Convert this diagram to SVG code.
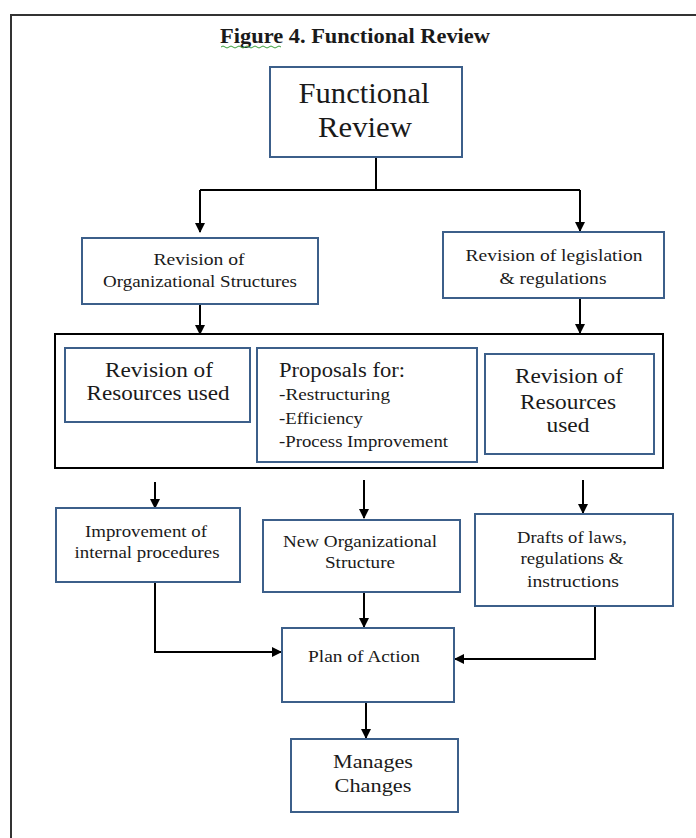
<svg xmlns="http://www.w3.org/2000/svg" width="696" height="838" viewBox="0 0 696 838">
<defs>
<marker id="ah" viewBox="0 0 10 10" refX="9" refY="5" markerWidth="5" markerHeight="5.5" orient="auto" markerUnits="strokeWidth">
<path d="M0,0 L10,5 L0,10 z" fill="#000"/>
</marker>
</defs>
<style>
.box{fill:#fff;stroke:#3c5f8a;stroke-width:2}
text{font-family:"Liberation Serif","Times New Roman",serif;fill:#1a1a1a}
.t{text-anchor:middle}
.c{fill:none;stroke:#000;stroke-width:2}
.a{fill:none;stroke:#000;stroke-width:2;marker-end:url(#ah)}
</style>
<rect width="696" height="838" fill="#fff"/>
<path d="M11,838 V15 H696" fill="none" stroke="#333" stroke-width="2"/>
<text class="t" x="355" y="43" font-size="20" font-weight="bold" textLength="270" lengthAdjust="spacingAndGlyphs">Figure 4. Functional Review</text>
<path d="M221,47 q2,-2 4,0 t4,0 t4,0 t4,0 t4,0 t4,0 t4,0 t4,0 t4,0 t4,0 t4,0 t4,0 t4,0 t4,0 t4,0" fill="none" stroke="#3aa03a" stroke-width="1"/>

<g id="connectors">
<path class="c" d="M376,157 V190 M200,190 H580"/>
<path class="a" d="M200,190 V232"/>
<path class="a" d="M580,190 V231"/>
<path class="a" d="M200,304 V334"/>
<path class="a" d="M580,298 V333"/>
<path class="a" d="M155,482 V508"/>
<path class="a" d="M364,480 V518"/>
<path class="a" d="M583,480 V513"/>
<path class="a" d="M364,592 V627"/>
<path class="a" d="M155,582 V652 H281"/>
<path class="a" d="M595,606 V659 H455"/>
<path class="a" d="M366,702 V738"/>
</g>

<g id="functional-review">
<rect class="box" x="270" y="67" width="192" height="90"/>
<text class="t" x="364" y="103" font-size="29" textLength="131" lengthAdjust="spacingAndGlyphs">Functional</text>
<text class="t" x="365" y="137" font-size="29" textLength="94" lengthAdjust="spacingAndGlyphs">Review</text>
</g>

<g id="org-structures">
<rect class="box" x="82" y="238" width="236" height="66"/>
<text class="t" x="199" y="265" font-size="17" textLength="91" lengthAdjust="spacingAndGlyphs">Revision of</text>
<text class="t" x="200" y="287" font-size="17" textLength="194" lengthAdjust="spacingAndGlyphs">Organizational Structures</text>
</g>

<g id="legislation">
<rect class="box" x="443" y="232" width="221" height="66"/>
<text class="t" x="554" y="261" font-size="17" textLength="177" lengthAdjust="spacingAndGlyphs">Revision of legislation</text>
<text class="t" x="553" y="284" font-size="17" textLength="107" lengthAdjust="spacingAndGlyphs">&amp; regulations</text>
</g>

<g id="container">
<rect x="55" y="334" width="608" height="134" fill="none" stroke="#000" stroke-width="2"/>
</g>

<g id="resources-left">
<rect class="box" x="65" y="348" width="185" height="74"/>
<text class="t" x="159" y="377" font-size="20" textLength="108" lengthAdjust="spacingAndGlyphs">Revision of</text>
<text class="t" x="158" y="400" font-size="20" textLength="143" lengthAdjust="spacingAndGlyphs">Resources used</text>
</g>

<g id="proposals">
<rect class="box" x="257" y="348" width="220" height="114"/>
<text x="279" y="377" font-size="20" textLength="126" lengthAdjust="spacingAndGlyphs">Proposals for:</text>
<text x="279" y="400" font-size="17" textLength="111" lengthAdjust="spacingAndGlyphs">-Restructuring</text>
<text x="279" y="424" font-size="17" textLength="84" lengthAdjust="spacingAndGlyphs">-Efficiency</text>
<text x="279" y="447" font-size="17" textLength="169" lengthAdjust="spacingAndGlyphs">-Process Improvement</text>
</g>

<g id="resources-right">
<rect class="box" x="485" y="354" width="169" height="100"/>
<text class="t" x="569" y="383" font-size="20" textLength="108" lengthAdjust="spacingAndGlyphs">Revision of</text>
<text class="t" x="568" y="409" font-size="20" textLength="96" lengthAdjust="spacingAndGlyphs">Resources</text>
<text class="t" x="568" y="432" font-size="20" textLength="43" lengthAdjust="spacingAndGlyphs">used</text>
</g>

<g id="improvement">
<rect class="box" x="56" y="508" width="184" height="74"/>
<text class="t" x="146" y="537" font-size="17" textLength="122" lengthAdjust="spacingAndGlyphs">Improvement of</text>
<text class="t" x="147" y="558" font-size="17" textLength="145" lengthAdjust="spacingAndGlyphs">internal procedures</text>
</g>

<g id="new-org">
<rect class="box" x="263" y="520" width="197" height="72"/>
<text class="t" x="360" y="547" font-size="17" textLength="154" lengthAdjust="spacingAndGlyphs">New Organizational</text>
<text class="t" x="360" y="568" font-size="17" textLength="70" lengthAdjust="spacingAndGlyphs">Structure</text>
</g>

<g id="drafts">
<rect class="box" x="475" y="514" width="198" height="92"/>
<text class="t" x="572" y="543" font-size="17" textLength="110" lengthAdjust="spacingAndGlyphs">Drafts of laws,</text>
<text class="t" x="572" y="564" font-size="17" textLength="103" lengthAdjust="spacingAndGlyphs">regulations &amp;</text>
<text class="t" x="573" y="587" font-size="17" textLength="92" lengthAdjust="spacingAndGlyphs">instructions</text>
</g>

<g id="plan">
<rect class="box" x="282" y="628" width="172" height="74"/>
<text class="t" x="364" y="662" font-size="17" textLength="112" lengthAdjust="spacingAndGlyphs">Plan of Action</text>
</g>

<g id="manages">
<rect class="box" x="291" y="739" width="167" height="73"/>
<text class="t" x="373" y="768" font-size="19" textLength="80" lengthAdjust="spacingAndGlyphs">Manages</text>
<text class="t" x="373" y="792" font-size="19" textLength="77" lengthAdjust="spacingAndGlyphs">Changes</text>
</g>
</svg>
